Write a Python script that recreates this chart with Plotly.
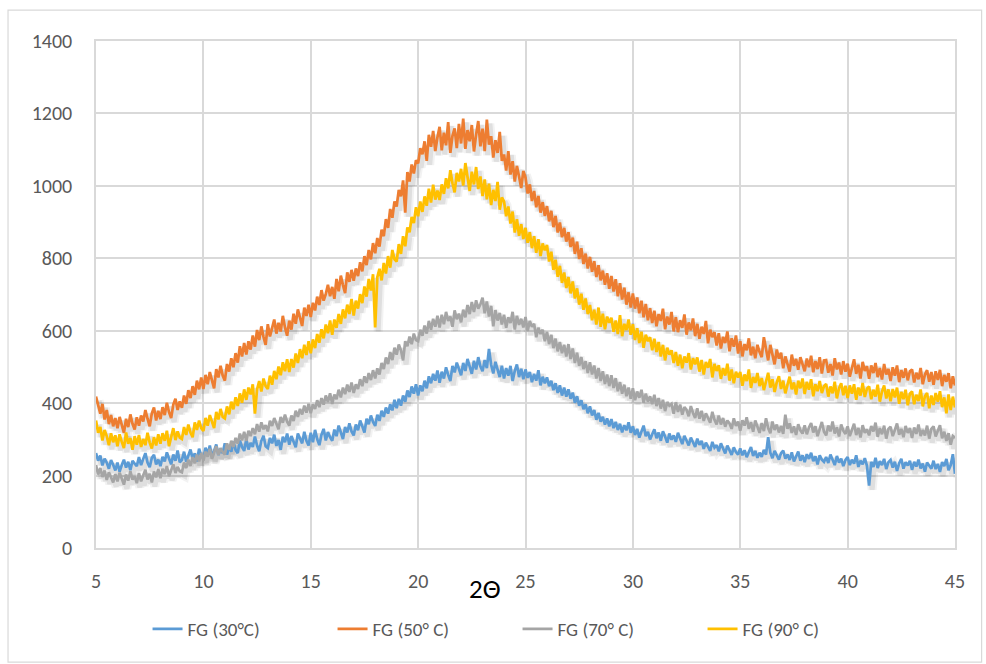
import numpy as np
import plotly.graph_objects as go

# Diffraction angle grid (degrees 2-theta), 0.1 deg step
two_theta = np.linspace(5, 45, 401)

# Intensity readings for each sample, one row per degree
fg_30 = [
    262, 241, 255, 228, 247, 236, 219, 243, 230, 214,
    236, 211, 229, 244, 222, 238, 215, 241, 233, 226,
    251, 229, 246, 262, 236, 223, 249, 257, 231, 244,
    226, 252, 239, 264, 247, 231, 258, 241, 269, 237,
    243, 266, 238, 257, 272, 246, 261, 239, 274, 255,
    248, 277, 259, 283, 251, 268, 286, 257, 274, 262,
    289, 258, 281, 266, 294, 271, 262, 297, 279, 268,
    301, 272, 290, 279, 308, 283, 267, 296, 310, 281,
    276, 304, 289, 313, 282, 298, 271, 307, 292, 316,
    285, 309, 294, 278, 316, 301, 289, 321, 296, 283,
    318, 292, 326, 301, 284, 313, 329, 297, 320, 306,
    296, 327, 309, 338, 316, 301, 334, 319, 344, 322,
    311, 341, 325, 352, 336, 319, 357, 342, 366, 348,
    337, 368, 351, 379, 362, 388, 371, 397, 380, 409,
    386, 412, 393, 421, 404, 435, 417, 446, 426, 452,
    421, 449, 433, 462, 441, 474, 455, 481, 462, 490,
    456, 487, 468, 499, 478, 461, 503, 485, 512, 491,
    477, 511, 489, 522, 498, 481, 517, 493, 527, 502,
    488, 519, 497, 550, 506, 482, 514, 491, 472, 503,
    468, 497, 476, 503, 461, 489, 507, 472, 495, 466,
    493, 470, 486, 458, 481, 462, 491, 449, 473, 455,
    471, 447, 462, 436, 455, 428, 449, 421, 443, 418,
    438, 412, 429, 401, 419, 393, 408, 383, 397, 372,
    391, 366, 381, 354, 373, 349, 362, 341, 358, 336,
    356, 331, 348, 326, 343, 319, 339, 325, 347, 318,
    336, 312, 329, 305, 324, 338, 309, 321, 300, 317,
    328, 303, 319, 296, 322, 308, 291, 316, 299, 311,
    293, 318, 301, 287, 310, 296, 283, 305, 290, 279,
    302, 285, 296, 274, 291, 281, 268, 293, 277, 284,
    267, 289, 274, 261, 283, 270, 257, 278, 265, 258,
    275, 256, 270, 251, 266, 279, 254, 268, 249, 263,
    252, 271, 258, 306, 263, 248, 268, 254, 244, 262,
    269, 247, 258, 243, 264, 239, 253, 266, 241, 256,
    237, 259, 246, 263, 240, 253, 231, 256, 244, 238,
    251, 235, 258, 242, 229, 254, 236, 247, 226, 243,
    251, 229, 244, 233, 256, 224, 241, 231, 248, 227,
    172, 238, 224, 249, 221, 240, 229, 246, 218, 237,
    243, 222, 238, 213, 234, 246, 219, 237, 228, 241,
    216, 238, 225, 244, 220, 233, 211, 236, 229, 219,
    241, 218, 232, 210, 237, 226, 246, 215, 229, 259,
    205,
]

fg_50 = [
    418, 392, 371, 398, 355, 381, 342, 367, 336, 359,
    331, 362, 340, 318, 357, 334, 369, 343, 327, 361,
    338, 366, 349, 381, 357, 336, 372, 388, 352, 379,
    356, 389, 367, 401, 375, 359, 396, 412, 381, 405,
    387, 421, 398, 436, 414, 447, 423, 462, 438, 471,
    439, 478, 452, 486, 463, 441, 494, 471, 503, 476,
    462, 508, 487, 524, 499, 538, 512, 557, 529, 566,
    534, 571, 548, 587, 556, 602, 574, 612, 583, 561,
    618, 584, 607, 631, 592, 622, 598, 641, 609, 586,
    628, 603, 647, 619, 659, 632, 613, 664, 641, 672,
    638, 677, 656, 694, 671, 712, 683, 701, 727, 695,
    721, 688, 743, 709, 752, 726, 704, 761, 735, 768,
    738, 772, 751, 789, 764, 806, 781, 823, 797, 842,
    814, 856, 832, 879, 861, 908, 884, 936, 912, 957,
    943, 989, 971, 1015, 926, 1038, 1012, 1059, 1034, 1071,
    1062, 1104, 1087, 1123, 1069, 1141, 1108, 1152, 1096, 1134,
    1163, 1098, 1147, 1112, 1176, 1091, 1138, 1159, 1104, 1171,
    1117, 1186, 1102, 1154, 1123, 1168, 1095, 1141, 1179, 1109,
    1158, 1096, 1183, 1114, 1137, 1078, 1126, 1091, 1149, 1069,
    1087, 1042, 1096, 1031, 1068, 1012, 1055, 1026, 994, 1041,
    1023, 979, 1004, 958, 986, 941, 972, 926, 955, 917,
    944, 902, 931, 886, 917, 871, 899, 858, 884, 846,
    872, 831, 857, 812, 846, 798, 828, 784, 813, 772,
    804, 763, 792, 748, 781, 739, 766, 727, 759, 716,
    751, 708, 742, 695, 731, 686, 719, 672, 706, 664,
    703, 661, 692, 648, 683, 637, 674, 629, 662, 621,
    655, 612, 646, 627, 661, 604, 639, 617, 652, 598,
    637, 596, 629, 608, 645, 589, 623, 601, 634, 585,
    619, 578, 611, 591, 627, 565, 603, 582, 596, 559,
    593, 551, 583, 566, 598, 543, 579, 556, 587, 537,
    571, 529, 563, 546, 579, 532, 556, 524, 561, 541,
    527, 582, 549, 518, 561, 536, 507, 548, 523, 539,
    496, 529, 511, 487, 534, 503, 522, 492, 527, 509,
    488, 523, 499, 531, 485, 516, 494, 527, 482, 518,
    519, 484, 508, 476, 524, 493, 512, 479, 516, 487,
    509, 473, 498, 521, 481, 506, 468, 514, 489, 502,
    467, 504, 483, 511, 472, 497, 465, 508, 479, 494,
    461, 499, 476, 504, 458, 491, 470, 496, 463, 488,
    493, 457, 484, 466, 497, 452, 479, 491, 459, 486,
    451, 488, 464, 492, 447, 478, 459, 483, 441, 474,
    449,
]

fg_70 = [
    229, 203, 221, 196, 214, 188, 209, 193, 181, 204,
    184, 208, 191, 175, 203, 186, 212, 189, 198, 179,
    207, 184, 201, 216, 189, 205, 181, 211, 195, 218,
    193, 219, 204, 226, 198, 213, 231, 207, 224, 212,
    209, 236, 221, 244, 227, 251, 234, 258, 239, 262,
    241, 266, 252, 274, 246, 263, 281, 257, 276, 265,
    258, 289, 271, 296, 279, 304, 288, 316, 297, 321,
    296, 324, 309, 331, 314, 342, 321, 347, 328, 339,
    322, 351, 337, 359, 341, 328, 362, 346, 368, 349,
    338, 366, 351, 379, 362, 384, 369, 393, 374, 398,
    372, 397, 384, 408, 389, 414, 396, 421, 403, 427,
    398, 424, 411, 437, 416, 443, 425, 451, 431, 457,
    428, 452, 439, 466, 447, 474, 456, 483, 464, 491,
    468, 496, 479, 511, 494, 526, 508, 541, 519, 553,
    534, 562, 546, 518, 571, 557, 584, 563, 592, 574,
    571, 603, 586, 614, 592, 627, 603, 633, 611, 641,
    609, 644, 618, 652, 627, 639, 611, 656, 632, 647,
    623, 658, 637, 671, 646, 679, 652, 684, 661, 673,
    691, 648, 681, 639, 668, 612, 657, 628, 649, 617,
    644, 608, 637, 621, 652, 603, 641, 616, 633, 609,
    638, 599, 627, 611, 619, 582, 608, 591, 603, 571,
    597, 563, 589, 552, 578, 543, 569, 538, 561, 529,
    563, 522, 551, 511, 539, 503, 527, 494, 516, 483,
    513, 479, 504, 468, 497, 461, 488, 453, 479, 447,
    477, 442, 469, 433, 458, 426, 451, 419, 443, 412,
    441, 408, 432, 415, 437, 401, 426, 404, 419, 397,
    423, 392, 414, 385, 409, 378, 403, 393, 398, 371,
    402, 376, 396, 368, 389, 381, 364, 392, 373, 359,
    386, 357, 379, 351, 372, 361, 346, 376, 354, 341,
    366, 341, 359, 335, 352, 344, 329, 358, 337, 349,
    324, 353, 338, 361, 329, 347, 321, 352, 336, 318,
    345, 323, 358, 331, 317, 349, 326, 341, 319, 337,
    315, 368, 329, 344, 318, 336, 312, 342, 325, 316,
    339, 314, 333, 345, 319, 336, 309, 331, 348, 321,
    311, 338, 322, 349, 316, 333, 308, 341, 324, 315,
    336, 309, 328, 343, 312, 331, 305, 339, 318, 327,
    311, 337, 322, 346, 307, 331, 314, 338, 302, 329,
    335, 309, 326, 344, 313, 329, 306, 337, 318, 331,
    304, 333, 315, 341, 309, 326, 311, 338, 302, 329,
    336, 308, 324, 339, 303, 321, 296, 317, 285, 309,
    304,
]

fg_90 = [
    352, 318, 334, 297, 326, 309, 284, 317, 292, 311,
    281, 314, 293, 276, 319, 288, 304, 271, 309, 285,
    312, 279, 301, 284, 318, 291, 275, 306, 283, 314,
    288, 317, 296, 324, 281, 309, 331, 298, 322, 305,
    301, 334, 312, 341, 319, 306, 347, 326, 352, 331,
    323, 359, 338, 367, 349, 331, 376, 355, 384, 362,
    358, 391, 369, 404, 383, 416, 392, 427, 401, 438,
    409, 443, 424, 452, 371, 438, 461, 432, 468, 447,
    439, 476, 451, 489, 466, 501, 477, 513, 488, 521,
    486, 522, 498, 537, 511, 549, 524, 561, 533, 571,
    538, 576, 552, 591, 567, 604, 579, 617, 593, 628,
    589, 631, 608, 646, 619, 659, 634, 672, 646, 688,
    642, 683, 661, 701, 676, 722, 694, 743, 711, 756,
    609, 748, 771, 739, 787, 758, 806, 774, 823, 797,
    791, 839, 812, 861, 833, 885, 872, 914, 897, 941,
    916, 957, 928, 971, 945, 992, 954, 1003, 962, 987,
    961, 1004, 978, 1021, 993, 1043, 1007, 982, 1036, 1012,
    1047, 1001, 1063, 1018, 986, 1039, 1004, 1052, 991, 1026,
    972, 1018, 963, 1006, 947, 989, 958, 1011, 934, 968,
    957, 916, 943, 896, 929, 871, 908, 862, 894, 853,
    884, 843, 872, 828, 861, 815, 853, 806, 841, 822,
    837, 791, 818, 768, 796, 749, 779, 732, 761, 718,
    748, 703, 736, 689, 717, 672, 702, 658, 689, 646,
    671, 629, 658, 617, 664, 611, 647, 604, 639, 622,
    636, 597, 628, 591, 643, 585, 619, 602, 631, 589,
    618, 574, 607, 566, 597, 553, 589, 571, 582, 546,
    578, 541, 569, 529, 561, 518, 553, 534, 546, 511,
    541, 503, 534, 496, 529, 512, 538, 493, 524, 507,
    526, 487, 519, 479, 514, 498, 522, 471, 508, 489,
    505, 467, 497, 476, 509, 462, 493, 455, 487, 471,
    486, 448, 479, 461, 493, 442, 472, 456, 483, 447,
    469, 436, 461, 484, 443, 466, 431, 458, 474, 439,
    462, 427, 451, 473, 438, 457, 424, 462, 441, 468,
    425, 459, 437, 466, 419, 452, 433, 461, 428, 447,
    453, 418, 446, 427, 459, 413, 441, 455, 422, 448,
    414, 449, 426, 452, 409, 443, 421, 456, 417, 440,
    446, 411, 437, 418, 451, 404, 432, 449, 413, 438,
    405, 439, 416, 443, 398, 431, 411, 437, 394, 426,
    432, 397, 423, 406, 438, 391, 419, 428, 386, 421,
    395, 428, 404, 433, 389, 416, 372, 424, 381, 418,
    388,
]

series_names = ["FG (30°C)", "FG (50° C)", "FG (70° C)", "FG (90° C)"]
series_values = [fg_30, fg_50, fg_70, fg_90]
series_colors = ["#5b9bd5", "#ed7d31", "#a5a5a5", "#ffc000"]

x_ticks = [5, 10, 15, 20, 25, 30, 35, 40, 45]
y_ticks = [0, 200, 400, 600, 800, 1000, 1200, 1400]

fig = go.Figure()

# soft drop shadow under each line (two passes for a blurred edge)
for vals in series_values:
    for w, a in ((9, 0.05), (5, 0.08)):
        fig.add_trace(go.Scatter(
            x=two_theta + 0.14, y=np.array(vals) - 11,
            mode="lines", line=dict(color=f"rgba(0,0,0,{a})", width=w),
            showlegend=False, hoverinfo="skip",
        ))

for name, vals, color in zip(series_names, series_values, series_colors):
    fig.add_trace(go.Scatter(
        x=two_theta, y=vals, name=name, mode="lines",
        line=dict(color=color, width=2.75),
    ))

font_family = "Calibri, Carlito, Lato, sans-serif"
grid_color = "#d9d9d9"
label_color = "#595959"

fig.update_layout(
    width=986, height=664,
    margin=dict(l=96, r=31, t=41, b=116),
    paper_bgcolor="white", plot_bgcolor="white",
    font=dict(family=font_family, size=20, color=label_color),
    xaxis=dict(
        range=[5, 45], tickvals=x_ticks, ticktext=[str(v) for v in x_ticks],
        showgrid=True, gridcolor=grid_color, gridwidth=1.5,
        showline=True, linecolor=grid_color, linewidth=1.5, mirror=True,
        zeroline=False, ticks="", ticklabelstandoff=14,
        tickfont=dict(size=20, color=label_color),
    ),
    yaxis=dict(
        range=[0, 1400], tickvals=y_ticks, ticktext=[str(v) for v in y_ticks],
        showgrid=True, gridcolor=grid_color, gridwidth=1.5,
        showline=True, linecolor=grid_color, linewidth=1.5, mirror=True,
        zeroline=False, ticks="", ticklabelstandoff=18,
        tickfont=dict(size=20, color=label_color),
    ),
    legend=dict(
        orientation="h", x=0.06, xanchor="left", y=-0.16, yanchor="middle",
        font=dict(size=19, color=label_color), entrywidth=140,
        bgcolor="rgba(0,0,0,0)",
    ),
    annotations=[dict(
        text="2Θ", x=0.453, y=-0.08, xref="paper", yref="paper",
        xanchor="center", yanchor="middle", showarrow=False,
        font=dict(size=27, color="#000000", family=font_family),
    )],
    shapes=[dict(
        type="rect", xref="paper", yref="paper",
        x0=-0.1024, x1=1.031, y0=-0.225, y1=1.061,
        line=dict(color=grid_color, width=1.2), fillcolor="rgba(0,0,0,0)",
        layer="below",
    )],
)

fig.write_html("out.html")
